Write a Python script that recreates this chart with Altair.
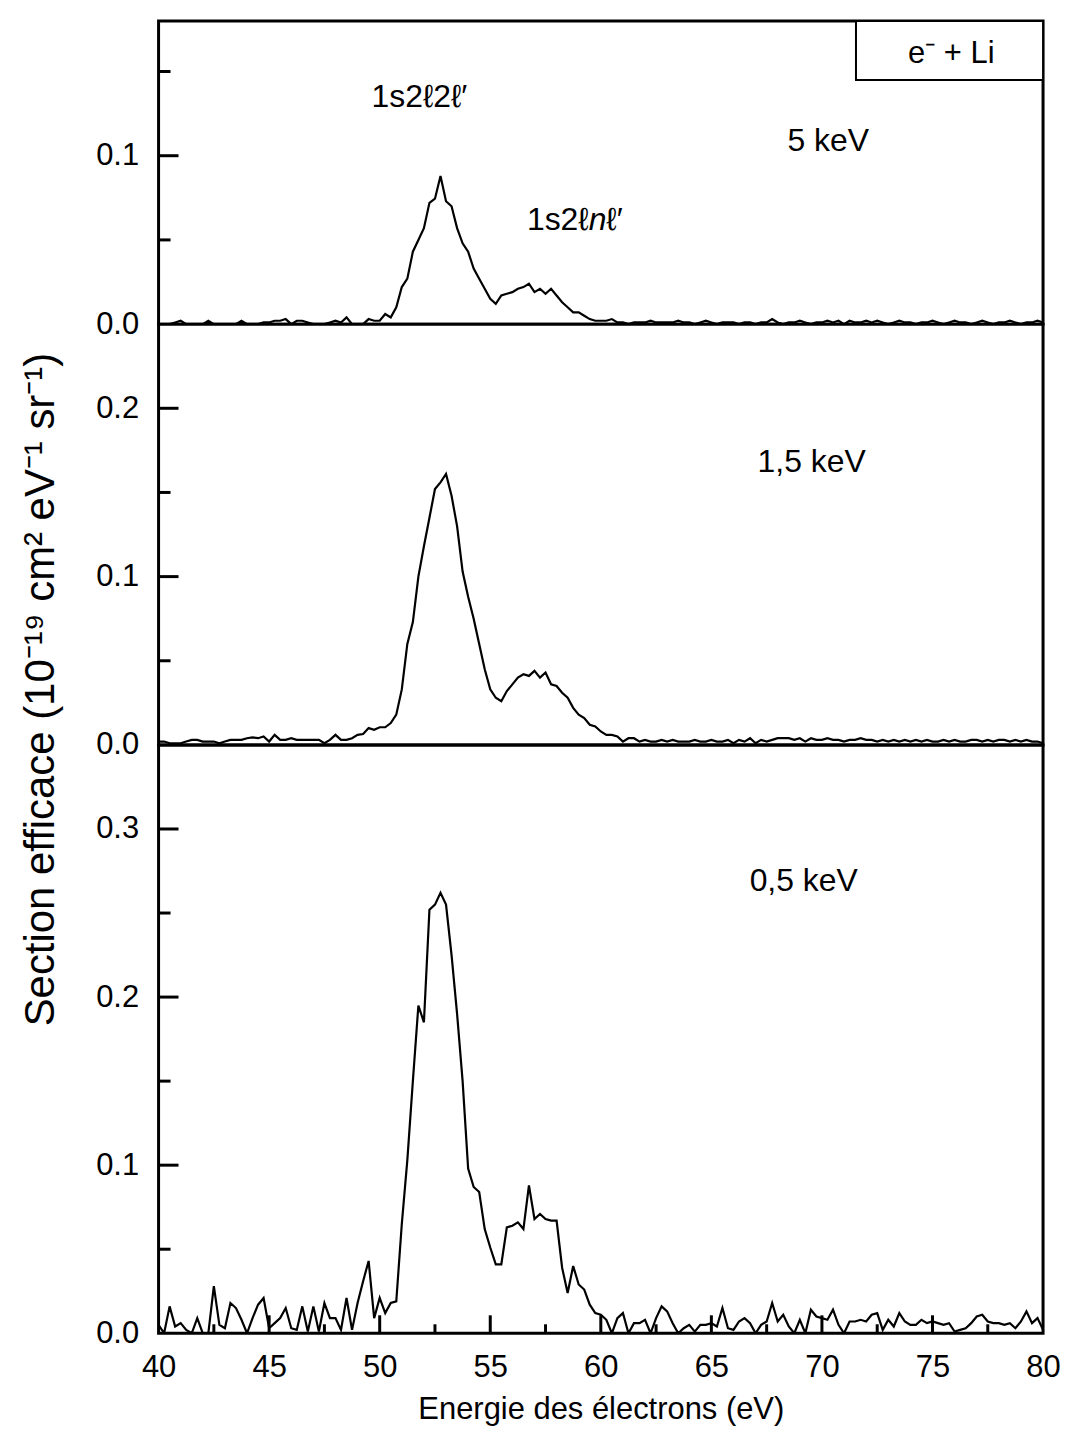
import altair as alt
import pandas as pd

# Electron energy grid (eV), 0.25 eV sampling
energy = [round(40 + 0.25 * i, 2) for i in range(161)]

# 5 keV spectrum (10^-19 cm2 eV-1 sr-1)
sigma_5keV = [
    0.000, 0.000, 0.000, 0.001, 0.002, 0.000, 0.000, 0.000, 0.000, 0.002,
    0.000, 0.000, 0.000, 0.000, 0.000, 0.002, 0.000, 0.000, 0.000, 0.001,
    0.001, 0.002, 0.002, 0.003, 0.000, 0.002, 0.002, 0.001, 0.000, 0.000,
    0.000, 0.001, 0.002, 0.001, 0.004, 0.000, 0.000, 0.000, 0.003, 0.002,
    0.002, 0.006, 0.004, 0.010, 0.022, 0.027, 0.043, 0.050, 0.057, 0.072,
    0.0745, 0.088, 0.073, 0.070, 0.057, 0.048, 0.043, 0.033, 0.027, 0.021,
    0.015, 0.012, 0.017, 0.018, 0.019, 0.021, 0.022, 0.024, 0.019, 0.021,
    0.018, 0.021, 0.017, 0.013, 0.010, 0.007, 0.007, 0.005, 0.003, 0.002,
    0.002, 0.002, 0.003, 0.001,
    0.001, 0.000, 0.001, 0.001, 0.001, 0.002, 0.001, 0.001, 0.001, 0.001,
    0.002, 0.001, 0.001, 0.000, 0.001, 0.002, 0.001, 0.000, 0.001, 0.001,
    0.001, 0.000, 0.001, 0.001, 0.000, 0.001, 0.001, 0.003, 0.001, 0.000,
    0.001, 0.001, 0.002, 0.001, 0.000, 0.001, 0.001, 0.002, 0.001, 0.002,
    0.000, 0.002, 0.001, 0.001, 0.002, 0.001, 0.002, 0.001, 0.000, 0.001,
    0.002, 0.001, 0.001, 0.000, 0.001, 0.001, 0.002, 0.001, 0.000, 0.001,
    0.002, 0.001, 0.001, 0.000, 0.001, 0.002, 0.001, 0.000, 0.001, 0.001,
    0.002, 0.001, 0.000, 0.001, 0.001, 0.002, 0.001,
]

# 1,5 keV spectrum
sigma_1_5keV = [
    0.002, 0.002, 0.001, 0.001, 0.001, 0.002, 0.003, 0.003, 0.002, 0.002,
    0.002, 0.001, 0.002, 0.003, 0.003, 0.003, 0.004, 0.0045, 0.004, 0.005,
    0.002, 0.006, 0.003, 0.003, 0.004, 0.003, 0.003, 0.003, 0.003, 0.003,
    0.001, 0.003, 0.006, 0.003, 0.003, 0.004, 0.006, 0.0065, 0.010, 0.009,
    0.0105, 0.0105, 0.013, 0.018, 0.033, 0.060, 0.073, 0.100, 0.118, 0.135,
    0.152, 0.156, 0.161, 0.148, 0.130, 0.103, 0.088, 0.075, 0.060, 0.045,
    0.033, 0.028, 0.026, 0.032, 0.036, 0.040, 0.042, 0.041, 0.044, 0.040,
    0.043, 0.036, 0.035, 0.031, 0.028, 0.022, 0.018, 0.016, 0.012, 0.011,
    0.008, 0.006, 0.006, 0.005, 0.002, 0.004, 0.004, 0.002, 0.003, 0.002,
    0.002, 0.003, 0.002, 0.003, 0.002, 0.002, 0.002, 0.003, 0.002, 0.002,
    0.003, 0.002, 0.002, 0.003, 0.001, 0.003, 0.002, 0.004, 0.001, 0.003,
    0.002, 0.003, 0.004, 0.004, 0.004, 0.003, 0.004, 0.002, 0.004, 0.003,
    0.003, 0.004, 0.003, 0.003, 0.002, 0.003, 0.003, 0.004, 0.003, 0.003,
    0.002, 0.003, 0.002, 0.003, 0.002, 0.003, 0.002, 0.003, 0.002, 0.003,
    0.002, 0.002, 0.003, 0.002, 0.003, 0.002, 0.002, 0.003, 0.003, 0.002,
    0.003, 0.002, 0.003, 0.003, 0.002, 0.003, 0.002, 0.003, 0.002, 0.002,
    0.001,
]

# 0,5 keV spectrum
sigma_0_5keV = [
    0.005, 0.000, 0.016, 0.004, 0.006, 0.002, 0.000, 0.009, 0.000, 0.000,
    0.028, 0.005, 0.003, 0.018, 0.015, 0.008, 0.000, 0.009, 0.017, 0.021,
    0.003, 0.006, 0.009, 0.015, 0.003, 0.002, 0.016, 0.001, 0.016, 0.001,
    0.018, 0.009, 0.009, 0.002, 0.021, 0.002, 0.018, 0.031, 0.043, 0.009,
    0.021, 0.012, 0.018, 0.019, 0.065, 0.103, 0.150, 0.195, 0.185, 0.252,
    0.255, 0.262, 0.255, 0.225, 0.190, 0.150, 0.098, 0.087, 0.084, 0.062,
    0.051, 0.041, 0.041, 0.063, 0.064, 0.066, 0.062, 0.088, 0.068, 0.071,
    0.068, 0.067, 0.067, 0.039, 0.024, 0.040, 0.029, 0.026, 0.017, 0.012,
    0.011, 0.008, 0.000, 0.009, 0.012, 0.000, 0.006, 0.006, 0.008, 0.000,
    0.009, 0.016, 0.013, 0.006, 0.000, 0.003, 0.005, 0.001, 0.005, 0.005,
    0.006, 0.004, 0.015, 0.003, 0.002, 0.007, 0.009, 0.006, 0.000, 0.005,
    0.007, 0.018, 0.007, 0.011, 0.004, 0.000, 0.008, 0.000, 0.014, 0.010,
    0.009, 0.008, 0.014, 0.005, 0.000, 0.007, 0.007, 0.008, 0.007, 0.011,
    0.012, 0.002, 0.008, 0.004, 0.012, 0.007, 0.005, 0.005, 0.008, 0.006,
    0.007, 0.006, 0.005, 0.006, 0.001, 0.002, 0.003, 0.006, 0.010, 0.011,
    0.007, 0.006, 0.006, 0.005, 0.006, 0.003, 0.007, 0.013, 0.006, 0.009,
    0.002,
]

for name, arr in [("5", sigma_5keV), ("1.5", sigma_1_5keV), ("0.5", sigma_0_5keV)]:
    if len(arr) != len(energy):
        raise ValueError(f"{name} keV series has {len(arr)} values, expected {len(energy)}")

x_major = [40, 45, 50, 55, 60, 65, 70, 75, 80]
x_inner_major = [45, 50, 55, 60, 65, 70, 75]
x_inner_minor = [42.5, 47.5, 52.5, 57.5, 62.5, 67.5, 72.5, 77.5]

FONT = "Liberation Sans"
LFS = 31   # axis labels / x title
YTFS = 42  # y title
AFS = 32   # annotations
W = 887

xscale = alt.Scale(domain=[40, 80], nice=False, zero=False)


def text_layer(xs, ys, labels, yscale, xaxis_off, align="left", style="normal", size=AFS):
    df = pd.DataFrame({"E": xs, "v": ys, "label": labels})
    xe = alt.X("E:Q", scale=xscale, axis=None) if xaxis_off else alt.X("E:Q", scale=xscale)
    return alt.Chart(df).mark_text(
        align=align, baseline="middle", font=FONT, fontSize=size,
        fontStyle=style, color="black"
    ).encode(
        x=xe,
        y=alt.Y("v:Q", scale=yscale),
        text="label:N",
    )


def panel(values, ymax, height, label_vals, major, minor, bottom=False, ytitle_kw=None, extra=None):
    yscale = alt.Scale(domain=[0, ymax], nice=False, zero=False)
    df = pd.DataFrame({"E": energy, "sigma": values})
    axis_kw = dict(
        values=label_vals, format=".1f", ticks=False, tickSize=0, domain=False,
        grid=False, labelFont=FONT, labelFontSize=LFS, labelPadding=20,
        labelColor="black", labelFlush=False, labelOverlap=False,
    )
    if ytitle_kw:
        axis_kw.update(ytitle_kw)
        yenc = alt.Y("sigma:Q", scale=yscale, axis=alt.Axis(**axis_kw))
    else:
        yenc = alt.Y("sigma:Q", scale=yscale, axis=alt.Axis(**axis_kw), title=None)
    if bottom:
        xenc = alt.X(
            "E:Q", scale=xscale,
            axis=alt.Axis(
                values=x_major, format="d", ticks=False, tickSize=0, domain=False,
                grid=False, labelFont=FONT, labelFontSize=LFS, labelPadding=19,
                labelColor="black", labelFlush=False, labelOverlap=False,
                title="Energie des électrons (eV)", titleFont=FONT,
                titleFontSize=LFS, titleFontWeight="normal", titleColor="black",
                titlePadding=12,
            ),
        )
    else:
        xenc = alt.X("E:Q", scale=xscale, axis=None)

    line = alt.Chart(df).mark_line(color="black", strokeWidth=2.2, clip=True).encode(x=xenc, y=yenc)

    layers = [line]
    maj = alt.Chart(pd.DataFrame({"t": major})).mark_rule(color="black", strokeWidth=3).encode(
        y=alt.Y("t:Q", scale=yscale), x=alt.value(0), x2=alt.value(20))
    mnr = alt.Chart(pd.DataFrame({"t": minor})).mark_rule(color="black", strokeWidth=3).encode(
        y=alt.Y("t:Q", scale=yscale), x=alt.value(0), x2=alt.value(12))
    layers += [maj, mnr]
    if bottom:
        xmaj = alt.Chart(pd.DataFrame({"t": x_inner_major})).mark_rule(color="black", strokeWidth=3).encode(
            x=alt.X("t:Q", scale=xscale), y=alt.value(height), y2=alt.value(height - 18))
        xmin = alt.Chart(pd.DataFrame({"t": x_inner_minor})).mark_rule(color="black", strokeWidth=3).encode(
            x=alt.X("t:Q", scale=xscale), y=alt.value(height), y2=alt.value(height - 9))
        layers += [xmaj, xmin]
    if extra:
        layers += extra(yscale, not bottom)
    return alt.layer(*layers).properties(width=W, height=height)


# annotation anchors (data units)
box_x = [71.54]
box_x2 = [80.0]
box_y = [0.145]
box_y2 = [0.18]


def top_extra(yscale, xoff):
    box = alt.Chart(pd.DataFrame({"a": box_x, "b": box_x2, "c": box_y, "d": box_y2})).mark_rect(
        fill="white", stroke="black", strokeWidth=2
    ).encode(
        x=alt.X("a:Q", scale=xscale, axis=None), x2="b:Q",
        y=alt.Y("c:Q", scale=yscale), y2="d:Q",
    )
    return [
        box,
        text_layer([75.85], [0.1605], ["e\u207b + Li"], yscale, xoff, align="center", size=LFS),
        text_layer([49.63], [0.135], ["1s2\u21132\u2113\u2032"], yscale, xoff),
        text_layer([59.45], [0.0617], ["1s2\u2113"], yscale, xoff, align="right"),
        text_layer([59.45], [0.0617], ["n"], yscale, xoff, style="italic"),
        text_layer([60.25], [0.0617], ["\u2113\u2032"], yscale, xoff),
        text_layer([68.44], [0.109], ["5 keV"], yscale, xoff),
    ]


def mid_extra(yscale, xoff):
    return [text_layer([67.09], [0.168], ["1,5 keV"], yscale, xoff)]


def bot_extra(yscale, xoff):
    return [text_layer([66.73], [0.269], ["0,5 keV"], yscale, xoff)]


top = panel(sigma_5keV, 0.18, 304, [0.0, 0.1], [0.1], [0.05, 0.15], extra=top_extra)
mid = panel(
    sigma_1_5keV, 0.25, 422, [0.0, 0.1, 0.2], [0.1, 0.2], [0.05, 0.15],
    ytitle_kw=dict(
        title="Section efficace (10\u207b\u00b9\u2079 cm\u00b2 eV\u207b\u00b9 sr\u207b\u00b9)",
        titleFont=FONT, titleFontSize=YTFS, titleFontWeight="normal", titleColor="black",
        titleAngle=270, titleX=-118, titleY=366, titleAlign="center", titleBaseline="middle",
    ),
    extra=mid_extra,
)
bot = panel(
    sigma_0_5keV, 0.35, 590, [0.0, 0.1, 0.2, 0.3], [0.1, 0.2, 0.3], [0.05, 0.15, 0.25],
    bottom=True, extra=bot_extra,
)

chart = alt.vconcat(top, mid, bot, spacing=0, bounds="flush").properties(
    padding={"left": 10, "top": 8, "right": 0, "bottom": 5}
).configure_view(stroke="black", strokeWidth=3)

chart.save("out.html", embed_options={"renderer": "svg", "actions": False})
